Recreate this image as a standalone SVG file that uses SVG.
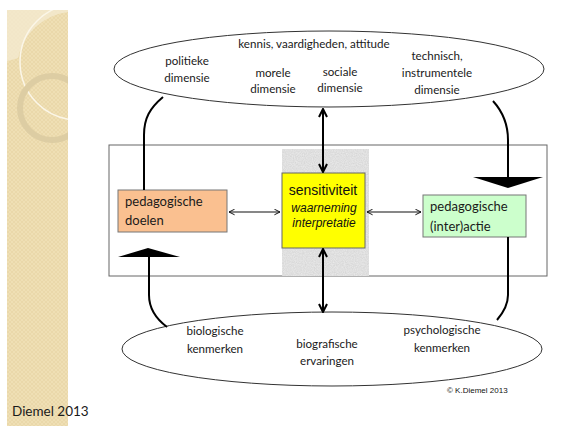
<svg xmlns="http://www.w3.org/2000/svg" width="566" height="426" viewBox="0 0 566 426">
<style>
.t{font-family:Lato,"Open Sans","Liberation Sans",sans-serif;fill:#1a1a1a}
.s{font-size:11.6px}
.b{font-size:13px}
.a{font-family:"Liberation Sans",Arial,sans-serif;fill:#111}
.ell{fill:#fff;stroke:#333;stroke-width:1}
.con{fill:none;stroke:#000;stroke-width:2}
.thin{fill:none;stroke:#111;stroke-width:1.2}
.big{fill:#000}
</style>
<defs>
<pattern id="hatch" width="4" height="4" patternUnits="userSpaceOnUse">
<rect width="4" height="4" fill="#EFDFB4"/>
<path d="M0,0L4,4M4,0L0,4" stroke="#E6D3A2" stroke-width="0.6"/>
</pattern>
<filter id="noise" x="0" y="0" width="100%" height="100%">
<feTurbulence type="fractalNoise" baseFrequency="0.9" numOctaves="2" seed="3"/>
<feColorMatrix type="matrix" values="0 0 0 0 0.55  0 0 0 0 0.55  0 0 0 0 0.55  0 0 0 0.7 -0.1"/>
<feComposite in2="SourceGraphic" operator="in"/>
</filter>
<clipPath id="strip"><rect x="7" y="10" width="61" height="416"/></clipPath>
<marker id="ah" viewBox="0 0 10 10" refX="9" refY="5" markerWidth="7" markerHeight="7" markerUnits="userSpaceOnUse" orient="auto-start-reverse">
<path d="M1,1L9,5L1,9" fill="none" stroke="#111" stroke-width="1.4"/>
</marker>
<marker id="ahb" viewBox="0 0 10 10" refX="9" refY="5" markerWidth="10" markerHeight="10" markerUnits="userSpaceOnUse" orient="auto-start-reverse">
<path d="M1,1L9,5L1,9" fill="none" stroke="#000" stroke-width="2"/>
</marker>
</defs>
<rect width="566" height="426" fill="#fff"/>
<g id="sidebar">
<rect x="7" y="10" width="61" height="416" fill="url(#hatch)"/>
<g clip-path="url(#strip)">
<path d="M7,10H68V12A58,58 0 0 0 18,58Q12,60 7,61Z" fill="#F4EAD0" opacity="0.8"/>
<circle cx="78" cy="62" r="58" fill="none" stroke="#FBF6E8" stroke-width="1.5"/>
<circle cx="52" cy="108" r="32" fill="none" stroke="#DDCDA3" stroke-width="6"/>
</g>
</g>
<g id="frame">
<rect x="109" y="145" width="438" height="131" fill="#fff" stroke="#666" stroke-width="1"/>
<rect x="282" y="149" width="87" height="127" fill="#E9E9E9"/>
<rect x="282" y="149" width="87" height="127" fill="#E9E9E9" filter="url(#noise)"/>
</g>
<g id="top-ellipse">
<ellipse class="ell" cx="329" cy="69" rx="215" ry="38"/>
<text class="t s" x="314" y="48" text-anchor="middle">kennis, vaardigheden, attitude</text>
<text class="t s" x="187" y="65" text-anchor="middle">politieke</text>
<text class="t s" x="187" y="82" text-anchor="middle">dimensie</text>
<text class="t s" x="273" y="77" text-anchor="middle">morele</text>
<text class="t s" x="273" y="93" text-anchor="middle">dimensie</text>
<text class="t s" x="340" y="76" text-anchor="middle">sociale</text>
<text class="t s" x="340" y="92" text-anchor="middle">dimensie</text>
<text class="t s" x="437" y="60" text-anchor="middle">technisch,</text>
<text class="t s" x="437" y="77" text-anchor="middle">instrumentele</text>
<text class="t s" x="437" y="94" text-anchor="middle">dimensie</text>
</g>
<g id="bottom-ellipse">
<ellipse class="ell" cx="332" cy="349" rx="210" ry="37"/>
<text class="t s" x="215" y="335" text-anchor="middle">biologische</text>
<text class="t s" x="215" y="353" text-anchor="middle">kenmerken</text>
<text class="t s" x="327" y="348" text-anchor="middle">biografische</text>
<text class="t s" x="327" y="365" text-anchor="middle">ervaringen</text>
<text class="t s" x="442" y="334" text-anchor="middle">psychologische</text>
<text class="t s" x="442" y="352" text-anchor="middle">kenmerken</text>
</g>
<g id="doelen">
<rect x="118" y="190" width="109" height="42" fill="#FAC090" stroke="#777" stroke-width="1"/>
<text class="t b" x="125" y="206">pedagogische</text>
<text class="t b" x="125" y="225">doelen</text>
</g>
<g id="sensitiviteit">
<rect x="282" y="173" width="83" height="75" fill="#FFFF00" stroke="#666" stroke-width="1"/>
<text class="a" x="323" y="195" text-anchor="middle" font-size="14">sensitiviteit</text>
<text class="a" x="324" y="212" text-anchor="middle" font-size="12" font-style="italic">waarneming</text>
<text class="a" x="324" y="227" text-anchor="middle" font-size="12" font-style="italic">interpretatie</text>
</g>
<g id="interactie">
<rect x="423" y="195" width="103" height="42" fill="#CCFFCC" stroke="#777" stroke-width="1"/>
<text class="t b" x="430" y="211">pedagogische</text>
<text class="t b" x="430" y="231">(inter)actie</text>
</g>
<g id="connectors">
<path class="thin" d="M229,212H280" marker-start="url(#ah)" marker-end="url(#ah)"/>
<path class="thin" d="M367,212H421" marker-start="url(#ah)" marker-end="url(#ah)"/>
<path class="con" d="M323,109V172" marker-start="url(#ahb)" marker-end="url(#ahb)"/>
<path class="con" d="M323,249V312" marker-start="url(#ahb)" marker-end="url(#ahb)"/>
<path class="con" d="M163,97C150,108 144,118 144,135V190"/>
<path class="con" d="M493,101C503,112 508,125 508,140V179"/>
<polygon class="big" points="473,177 543,177 508,188"/>
<path class="con" d="M149,257V295C149,308 155,318 167,327"/>
<polygon class="big" points="118,257 180,257 148,248"/>
<path class="con" d="M508,237V295C508,305 503,313 497,320"/>
</g>
<text class="a" x="447" y="393" font-size="8" fill="#333">© K.Diemel 2013</text>
<text class="t" x="12" y="416" font-size="13.5">Diemel 2013</text>
</svg>
